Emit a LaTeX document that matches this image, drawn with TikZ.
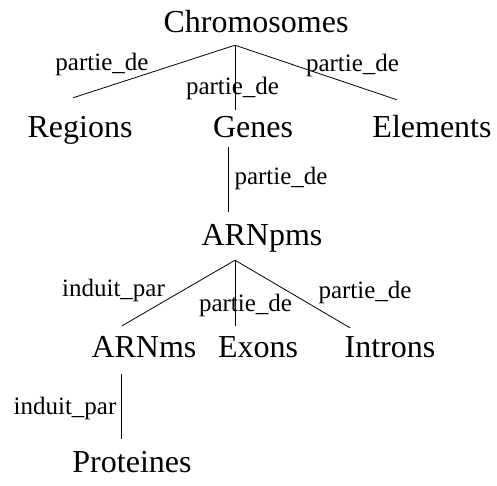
\documentclass[tikz,border=0pt]{standalone}
\usepackage{fontspec}
\setmainfont{Liberation Serif}
\usepackage{tikz}
\usetikzlibrary{positioning}

\begin{document}
\begin{tikzpicture}[on grid]
  \tikzstyle{word}=[inner sep=0pt,text height=22pt,text depth=7pt,font=\fontsize{32pt}{36pt}\selectfont]
  \tikzstyle{lab}=[inner sep=0pt,text height=16pt,text depth=5pt,font=\fontsize{25pt}{28pt}\selectfont]
  \tikzstyle{link}=[line width=0.8pt]

  \useasboundingbox (0,0) rectangle (497pt,-485pt);

  \node[word] (chrom) at (256pt,-24.5pt) {Chromosomes};
  \node[word,below left=105pt and 176pt of chrom] (regions) {Regions};
  \node[word,below left=105pt and 3pt of chrom] (genes) {Genes};
  \node[word,below right=105pt and 176pt of chrom] (elements) {Elements};
  \node[word,below right=108pt and 9pt of genes] (arnpms) {ARNpms};
  \node[word,below left=112pt and 118pt of arnpms] (arnms) {ARNms};
  \node[word,below left=112pt and 4pt of arnpms] (exons) {Exons};
  \node[word,below right=112pt and 128pt of arnpms] (introns) {Introns};
  \node[word,below left=115pt and 12pt of arnms] (proteines) {Proteines};

  \draw[link] ([shift={(-21pt,-6pt)}]chrom.south) -- node[lab,xshift=-52pt,yshift=7pt] {partie\_de} ([shift={(-7pt,17pt)}]regions.north);
  \draw[link] ([shift={(-21pt,-6pt)}]chrom.south) -- node[lab,xshift=-2.5pt,yshift=-11pt] {partie\_de} ([shift={(-18pt,5pt)}]genes.north);
  \draw[link] ([shift={(-21pt,-6pt)}]chrom.south) -- node[lab,xshift=36.5pt,yshift=7pt] {partie\_de} ([shift={(-35pt,15pt)}]elements.north);
  \draw[link] ([shift={(-25pt,-3pt)}]genes.south) -- node[lab,xshift=53pt,yshift=1pt] {partie\_de} ([shift={(-34pt,11pt)}]arnpms.north);
  \draw[link] ([shift={(-27pt,-8pt)}]arnpms.south) -- node[lab,xshift=-65pt,yshift=2.5pt] {induit\_par} ([shift={(-22pt,9pt)}]arnms.north);
  \draw[link] ([shift={(-27pt,-8pt)}]arnpms.south) -- node[lab,xshift=10.5pt,yshift=-12.5pt] {partie\_de} ([shift={(-23pt,9pt)}]exons.north);
  \draw[link] ([shift={(-27pt,-8pt)}]arnpms.south) -- node[lab,xshift=72.5pt,yshift=1.5pt] {partie\_de} ([shift={(-40pt,7pt)}]introns.north);
  \draw[link] ([shift={(-23pt,-10pt)}]arnms.south) -- node[lab,xshift=-56pt,yshift=-2pt] {induit\_par} ([shift={(-11pt,11pt)}]proteines.north);
\end{tikzpicture}
\end{document}
